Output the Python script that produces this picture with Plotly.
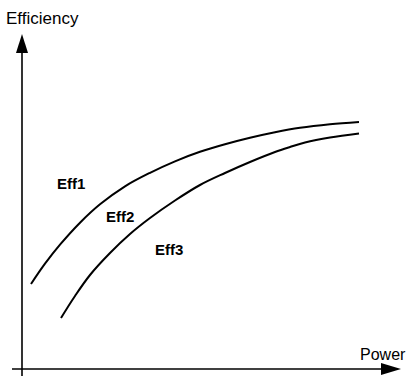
import plotly.graph_objects as go

# Curve samples: power (x) vs efficiency (y), in chart units
power_eff1 = [9, 23, 38, 58, 78, 103, 128, 153, 178, 203, 228, 253, 278, 308, 337]
eff1 = [85, 105.3, 124.3, 146.3, 164.7, 182.7, 196.2, 207.7, 217.2,
        224.7, 231.2, 236.7, 241.2, 244.8, 247.1]

power_eff2 = [39, 53, 68, 88, 108, 128, 153, 178, 203, 228, 253, 268, 283, 308, 337]
eff2 = [51, 73, 94, 116, 135, 151, 168.5, 184, 196, 207, 217, 222,
        226.5, 231.5, 235.5]

# Curve labels and where they sit
curve_labels = ["Eff1", "Eff2", "Eff3"]
label_x = [49, 98, 147]
label_y = [186, 153, 120]

x_title = "Power"
y_title = "Efficiency"

FONT = "Liberation Sans Narrow, Arial Narrow, sans-serif"

fig = go.Figure()
for xs, ys in [(power_eff1, eff1), (power_eff2, eff2)]:
    fig.add_trace(go.Scatter(
        x=xs, y=ys, mode="lines",
        line=dict(color="black", width=2, shape="spline", smoothing=1.0),
        hoverinfo="skip", showlegend=False,
    ))

# Axis lines with solid arrow heads
axis_line = dict(color="black", width=1.6)
fig.add_shape(type="line", x0=0, y0=-7, x1=0, y1=318, line=axis_line)
fig.add_shape(type="line", x0=-10, y0=0, x1=360, y1=0, line=axis_line)
fig.add_shape(type="path", path="M -6 316 L 6 316 L 0 335 Z",
              fillcolor="black", line=dict(color="black", width=0))
fig.add_shape(type="path", path="M 359 -6 L 359 6 L 379 0 Z",
              fillcolor="black", line=dict(color="black", width=0))

for t, x, y in zip(curve_labels, label_x, label_y):
    fig.add_annotation(x=x, y=y, text=f"<b>{t}</b>", showarrow=False,
                       font=dict(family=FONT, size=15, color="black"))

fig.add_annotation(x=-18, y=339, text=y_title, showarrow=False,
                   xanchor="left", yanchor="bottom",
                   font=dict(family=FONT, size=17, color="black"))
fig.add_annotation(x=386, y=4, text=x_title, showarrow=False,
                   xanchor="right", yanchor="bottom",
                   font=dict(family=FONT, size=16, color="black"))

fig.update_xaxes(range=[-22, 389], visible=False, fixedrange=True)
fig.update_yaxes(range=[-7, 369], visible=False, fixedrange=True)
fig.update_layout(
    width=411, height=376,
    margin=dict(l=0, r=0, t=0, b=0),
    paper_bgcolor="white", plot_bgcolor="white",
    showlegend=False,
)
fig.write_html("out.html", config={"displayModeBar": False})
